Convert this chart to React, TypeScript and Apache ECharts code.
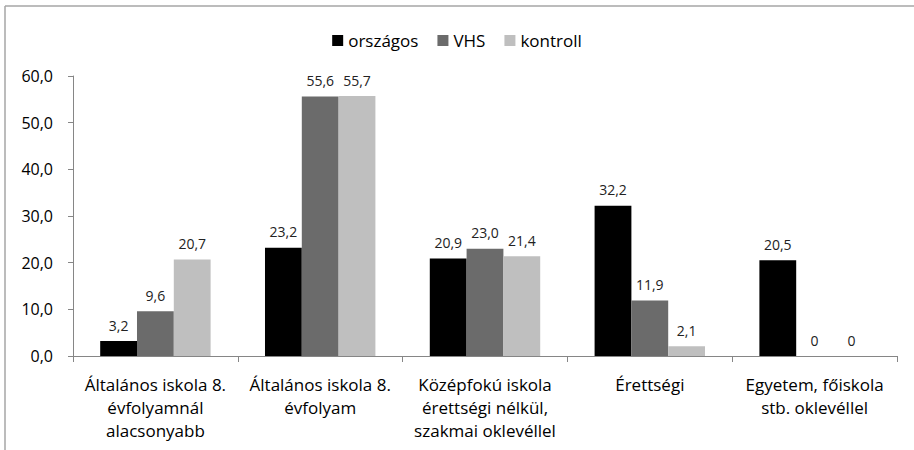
import React, { useEffect, useRef } from "react";
import * as echarts from "echarts";

const categories = [
  "Általános iskola 8.\névfolyamnál\nalacsonyabb",
  "Általános iskola 8.\névfolyam",
  "Középfokú iskola\nérettségi nélkül,\nszakmai oklevéllel",
  "Érettségi",
  "Egyetem, főiskola\nstb. oklevéllel",
];
const orszagos = [3.2, 23.2, 20.9, 32.2, 20.5];
const vhs = [9.6, 55.6, 23.0, 11.9, 0];
const kontroll = [20.7, 55.7, 21.4, 2.1, 0];
const seriesNames = ["országos", "VHS", "kontroll"];
const colors = ["#000000", "#6b6b6b", "#bfbfbf"];

const FONT = "'Open Sans', sans-serif";

const fmt1 = (v: number) => v.toFixed(1).replace(".", ",");
const fmtLabel = (v: number) => (v === 0 ? "0" : fmt1(v));

export default function App() {
  const ref = useRef<HTMLDivElement>(null);
  useEffect(() => {
    document.body.style.margin = "0";
    if (!ref.current) return;
    const chart = echarts.init(ref.current, null, { renderer: "svg" });
    const dataSets = [orszagos, vhs, kontroll];
    chart.setOption({
      animation: false,
      backgroundColor: "#ffffff",
      textStyle: { fontFamily: FONT },
      graphic: [
        {
          type: "line",
          shape: { x1: 5, y1: 6, x2: 914, y2: 6 },
          style: { stroke: "#a6a6a6", lineWidth: 1.5 },
        },
        {
          type: "line",
          shape: { x1: 5, y1: 6, x2: 5, y2: 450 },
          style: { stroke: "#a6a6a6", lineWidth: 1.5 },
        },
      ],
      legend: {
        top: 27,
        left: "center",
        itemWidth: 11,
        itemHeight: 11,
        itemGap: 19,
        icon: "rect",
        textStyle: { fontFamily: FONT, fontSize: 17, color: "#000" },
        data: seriesNames,
      },
      grid: { left: 73, right: 17, top: 76, bottom: 94, containLabel: false },
      xAxis: {
        type: "category",
        data: categories,
        axisLine: { lineStyle: { color: "#868686", width: 1 } },
        axisTick: { show: true, length: 6, lineStyle: { color: "#868686" } },
        axisLabel: {
          interval: 0,
          margin: 17,
          fontFamily: FONT,
          fontSize: 17,
          lineHeight: 23,
          color: "#000",
        },
      },
      yAxis: {
        type: "value",
        min: 0,
        max: 60,
        interval: 10,
        splitLine: { show: false },
        axisLine: { show: true, lineStyle: { color: "#868686", width: 1 } },
        axisTick: { show: true, length: 5, lineStyle: { color: "#868686" } },
        axisLabel: {
          formatter: (v: number) => fmt1(v),
          fontFamily: FONT,
          fontSize: 16,
          color: "#000",
          margin: 20,
        },
      },
      series: seriesNames.map((name, i) => ({
        name,
        type: "bar",
        data: dataSets[i],
        barGap: "0%",
        barCategoryGap: "33%",
        itemStyle: { color: colors[i] },
        label: {
          show: true,
          position: "top",
          distance: 9,
          fontFamily: FONT,
          fontSize: 14,
          color: "#222",
          formatter: (p: any) => fmtLabel(p.value),
        },
      })),
    });
    return () => chart.dispose();
  }, []);
  return <div ref={ref} style={{ width: 914, height: 450 }} />;
}
